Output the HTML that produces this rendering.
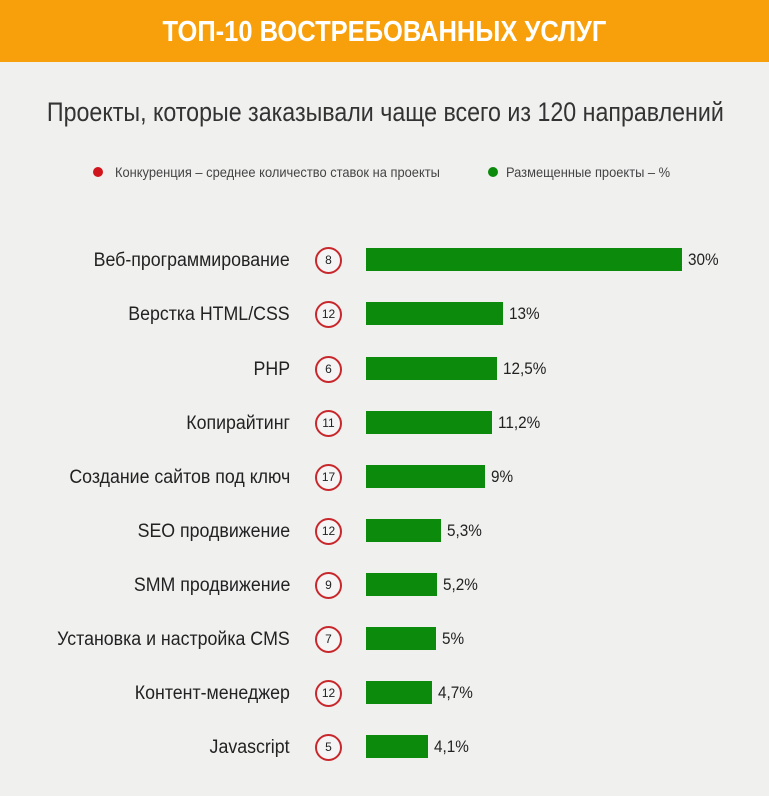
<!DOCTYPE html>
<html><head><meta charset="utf-8"><style>
body{margin:0;width:769px;height:796px;background:#f0f0ef;overflow:hidden;font-family:"Liberation Sans",sans-serif;position:relative;color:#222}
.hdr{position:absolute;left:0;top:0;width:769px;height:62px;background:#f7a00c}
.hdr div{position:absolute;left:0;width:769px;top:0;color:#fff;font-weight:bold;font-size:29px;text-align:center;line-height:64px;white-space:nowrap;transform:scaleX(0.88);transform-origin:384px 0}
.sub{position:absolute;left:-7px;width:769px;top:97px;text-align:center;font-size:27px;color:#333;white-space:nowrap;transform:scaleX(0.86);transform-origin:385px 0}
.leg{position:absolute;top:164px;font-size:14px;color:#444;white-space:nowrap;transform:scaleX(0.92);transform-origin:0 0}
.dot{position:absolute;width:10px;height:10px;border-radius:50%;top:167px}
.lab{position:absolute;right:479px;font-size:19px;color:#222;white-space:nowrap;transform:scaleX(0.935);transform-origin:100% 0}
.c{position:absolute;left:315px;width:23px;height:23px;border:2px solid #c8282c;border-radius:50%;font-size:12px;text-align:center;line-height:23px;background:#f5f5f5}
.bar{position:absolute;left:366px;height:23px;background:#0b8a0b}
.v{position:absolute;font-size:17px;color:#222;transform:scaleX(0.9);transform-origin:0 0}
</style></head><body>
<div class="hdr"><div>ТОП-10 ВОСТРЕБОВАННЫХ УСЛУГ</div></div>
<div class="sub">Проекты, которые заказывали чаще всего из 120 направлений</div>
<div class="dot" style="left:93px;background:#d0161c"></div>
<div class="leg" style="left:115px">Конкуренция – среднее количество ставок на проекты</div>
<div class="dot" style="left:488px;background:#0b8a0b"></div>
<div class="leg" style="left:506px">Размещенные проекты – %</div>

<div class="lab" style="top:250px">Веб-программирование</div><div class="c" style="top:247px">8</div><div class="bar" style="top:248px;width:316px"></div><div class="v" style="left:688px;top:250px">30%</div>
<div class="lab" style="top:304px">Верстка HTML/CSS</div><div class="c" style="top:301px">12</div><div class="bar" style="top:302px;width:137px"></div><div class="v" style="left:509px;top:304px">13%</div>
<div class="lab" style="top:359px">PHP</div><div class="c" style="top:356px">6</div><div class="bar" style="top:357px;width:131px"></div><div class="v" style="left:503px;top:359px">12,5%</div>
<div class="lab" style="top:413px">Копирайтинг</div><div class="c" style="top:410px">11</div><div class="bar" style="top:411px;width:126px"></div><div class="v" style="left:498px;top:413px">11,2%</div>
<div class="lab" style="top:467px">Создание сайтов под ключ</div><div class="c" style="top:464px">17</div><div class="bar" style="top:465px;width:119px"></div><div class="v" style="left:491px;top:467px">9%</div>
<div class="lab" style="top:521px">SEO продвижение</div><div class="c" style="top:518px">12</div><div class="bar" style="top:519px;width:75px"></div><div class="v" style="left:447px;top:521px">5,3%</div>
<div class="lab" style="top:575px">SMM продвижение</div><div class="c" style="top:572px">9</div><div class="bar" style="top:573px;width:71px"></div><div class="v" style="left:443px;top:575px">5,2%</div>
<div class="lab" style="top:629px">Установка и настройка CMS</div><div class="c" style="top:626px">7</div><div class="bar" style="top:627px;width:70px"></div><div class="v" style="left:442px;top:629px">5%</div>
<div class="lab" style="top:683px">Контент-менеджер</div><div class="c" style="top:680px">12</div><div class="bar" style="top:681px;width:66px"></div><div class="v" style="left:438px;top:683px">4,7%</div>
<div class="lab" style="top:737px">Javascript</div><div class="c" style="top:734px">5</div><div class="bar" style="top:735px;width:62px"></div><div class="v" style="left:434px;top:737px">4,1%</div>
</body></html>
